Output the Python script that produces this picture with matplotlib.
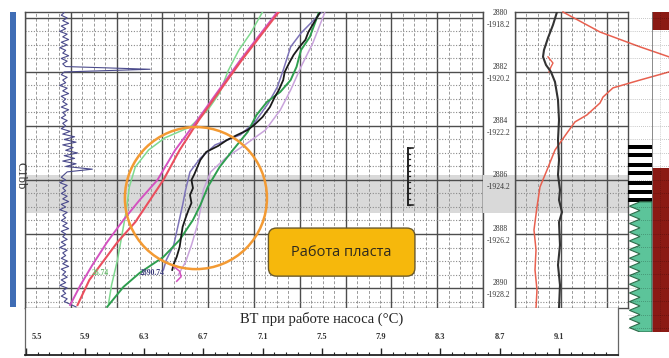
import matplotlib
matplotlib.use('Agg')
import matplotlib.pyplot as plt
from matplotlib.patches import Ellipse, FancyBboxPatch, Rectangle, Polygon
from matplotlib.ticker import FixedLocator
import numpy as np

W, H = 669, 358
SERIF = 'Liberation Serif'

# ── scales ─────────────────────────────────────────────────────────────────────
DEPTH_TOP, DEPTH_BOT, LITH_BOT = 2879.78, 2890.74, 2891.63
T_MIN, T_TRACK_MAX, T_AXIS_MAX = 5.495, 8.59, 9.5
R_MAX, LITH_MID, LITH_MAX = 24.57, 29.78, 33.48

DEPTH_MARKS = [2880, 2882, 2884, 2886, 2888, 2890]
ABS_MARKS = ['-1918.2', '-1920.2', '-1922.2', '-1924.2', '-1926.2', '-1928.2']
GRAY_BAND = (2885.81, 2887.22)

TICKS = [5.5, 5.9, 6.3, 6.7, 7.1, 7.5, 7.9, 8.3, 8.7, 9.1]
TICK_LABELS = ['5.5', '5.9', '6.3', '6.7', '7.1', '7.5', '7.9', '8.3', '8.7', '9.1']

# ── temperature curves (°C vs depth, m) ────────────────────────────────────────
MAG_D = [2879.78, 2881.56, 2883.78, 2884.89, 2886.00, 2886.74, 2887.48, 2888.30, 2889.15, 2889.89, 2890.63]
MAG_T = [7.20, 6.95, 6.66, 6.51, 6.39, 6.27, 6.16, 6.05, 5.95, 5.87, 5.80]

RED_D = [2879.78, 2881.56, 2883.78, 2884.89, 2886.00, 2886.74, 2887.56, 2888.30, 2889.04, 2889.70, 2890.63]
RED_T = [7.21, 6.96, 6.67, 6.54, 6.43, 6.34, 6.24, 6.12, 6.02, 5.93, 5.85]

LG_D = [2879.78, 2880.56, 2881.19, 2881.93, 2882.78, 2883.41, 2884.04, 2884.44, 2884.89,
        2885.52, 2886.26, 2887.11, 2888.04, 2888.96, 2889.89, 2890.56]
LG_T = [7.10, 7.02, 6.94, 6.87, 6.81, 6.73, 6.61, 6.44, 6.33, 6.24, 6.20, 6.18, 6.15, 6.12, 6.08, 6.06]

BLK_D = [2879.78, 2880.15, 2880.52, 2880.81, 2881.07, 2881.37, 2881.67, 2882.00, 2882.30, 2882.67,
         2882.96, 2883.30, 2883.67, 2883.93, 2884.15, 2884.33, 2884.52, 2884.74, 2884.96, 2885.26,
         2885.52, 2885.78, 2886.00, 2886.30, 2886.56, 2886.85, 2887.11, 2887.41, 2887.74, 2888.11,
         2888.48, 2888.85, 2889.11, 2889.33]
BLK_T = [7.49, 7.45, 7.41, 7.39, 7.35, 7.31, 7.28, 7.25, 7.24, 7.21,
         7.18, 7.15, 7.10, 7.05, 7.00, 6.93, 6.86, 6.80, 6.72, 6.68,
         6.66, 6.64, 6.62, 6.63, 6.61, 6.62, 6.60, 6.58, 6.56, 6.55,
         6.54, 6.52, 6.50, 6.49]

DG_D = [2879.81, 2880.70, 2881.19, 2881.81, 2882.30, 2882.74, 2883.11, 2883.59, 2884.22, 2884.89,
        2885.52, 2886.26, 2886.93, 2887.48, 2888.22, 2888.85, 2889.44, 2889.96, 2890.70]
DG_T = [7.48, 7.42, 7.36, 7.33, 7.29, 7.22, 7.13, 7.06, 7.00, 6.90,
        6.81, 6.73, 6.68, 6.63, 6.54, 6.43, 6.27, 6.16, 6.05]

PUR_D = [2879.78, 2880.56, 2881.07, 2881.93, 2882.56, 2883.15, 2883.85, 2884.33, 2884.70, 2885.19,
         2885.70, 2886.37, 2886.93, 2887.67, 2888.41, 2888.96, 2889.33]
PUR_T = [7.50, 7.36, 7.29, 7.24, 7.20, 7.14, 7.05, 6.95, 6.78, 6.68,
         6.61, 6.58, 6.56, 6.53, 6.50, 6.45, 6.43]

LIL_D = [2879.81, 2880.93, 2881.81, 2882.67, 2883.41, 2884.15, 2884.70, 2885.19, 2885.70, 2886.37,
         2887.11, 2887.67, 2888.41, 2889.04, 2889.52]
LIL_T = [7.52, 7.44, 7.36, 7.29, 7.22, 7.12, 6.98, 6.85, 6.75, 6.70,
         6.68, 6.66, 6.62, 6.58, 6.53]

CURL_D = [2889.20, 2889.38, 2889.58, 2889.75]
CURL_T = [6.50, 6.54, 6.55, 6.52]

# wiggly log on the left of the track, sampled every 0.1 m from the top
WIG_START, WIG_STEP = 2879.8, 0.1
WIG_T = [5.76, 5.74, 5.78, 5.75, 5.79, 5.74, 5.77, 5.73, 5.78, 5.75, 5.79, 5.74, 5.78, 5.73, 5.77,
         5.75, 5.79, 5.74, 5.78, 5.75, 5.77, 6.34,
         5.76, 5.74, 5.78, 5.75, 5.77, 5.73, 5.78, 5.75, 5.79, 5.74, 5.77, 5.75, 5.78, 5.74, 5.79,
         5.75, 5.77, 5.74, 5.78, 5.75, 5.77, 5.74,
         5.80, 5.75, 5.83, 5.76, 5.84, 5.75, 5.82, 5.77, 5.85, 5.76, 5.83, 5.75, 5.84, 5.77, 5.95,
         5.78, 5.76,
         5.74, 5.77, 5.73, 5.78, 5.75, 5.77, 5.74, 5.78, 5.75, 5.79, 5.74, 5.77, 5.73, 5.78, 5.75,
         5.77, 5.74, 5.78, 5.75, 5.79, 5.74, 5.77, 5.75, 5.78, 5.74, 5.77, 5.73, 5.78, 5.75, 5.77,
         5.74, 5.78, 5.75, 5.79, 5.74, 5.77, 5.75, 5.78, 5.74, 5.77, 5.73, 5.78, 5.75, 5.77, 5.74,
         5.78, 5.76, 5.80, 5.84]

# ── right track (relative units) ───────────────────────────────────────────────
RB_D = [2879.78, 2880.26, 2880.74, 2881.19, 2881.44, 2881.74, 2882.00, 2882.37, 2883.04, 2883.78,
        2884.52, 2885.26, 2885.81, 2886.37, 2886.74, 2887.19, 2887.56, 2888.41, 2889.15, 2889.89, 2890.74]
RB_U = [9.13, 8.26, 7.17, 6.30, 6.09, 6.74, 7.83, 8.70, 9.35, 9.57,
        9.35, 9.57, 9.35, 9.78, 9.57, 10.22, 9.57, 9.78, 9.35, 9.78, 9.57]

RR_D = [2879.78, 2880.52, 2881.07, 2881.44, 2881.72, 2882.00, 2882.30, 2882.59, 2882.93, 2883.15,
        2883.59, 2883.85, 2884.26, 2884.89, 2885.63, 2886.26, 2887.00, 2887.85, 2888.59, 2889.33,
        2890.07, 2890.74]
RR_U = [10.43, 18.48, 27.17, 33.48, 35.50, 33.48, 27.17, 21.30, 19.13, 18.48,
        15.65, 13.04, 11.30, 8.70, 6.96, 5.43, 4.78, 4.13, 4.57, 4.35,
        4.78, 4.57]

RS_D = [2881.44, 2881.67, 2881.81, 2882.00]
RS_U = [7.17, 8.26, 7.83, 7.39]

# ── lithology ──────────────────────────────────────────────────────────────────
STRIPE_DEPTHS = [2884.78, 2885.07, 2885.44, 2885.74, 2886.11, 2886.44, 2886.74]
TOP_BLOCK = (2879.78, 2880.44)
RED_TOP = 2885.56
GREEN_TOP = 2886.81

fig = plt.figure(figsize=(W / 100, H / 100), dpi=100)
fig.patch.set_facecolor('white')


def px_axes(x0, y0, x1, y1):
    return fig.add_axes([x0 / W, 1 - y1 / H, (x1 - x0) / W, (y1 - y0) / H])


MAJ = dict(color='#4d4d4d', lw=1.0, zorder=1)
MIN_V = dict(color='#9a9a9a', lw=0.7, ls=(0, (3, 2)), zorder=1)
MIN_H = dict(color='#8a8a8a', lw=0.8, ls=(0, (1, 1.5)), zorder=1)


def draw_grid(ax, xmajor, xminor):
    ax.axhspan(*GRAY_BAND, color='#d9d9d9', lw=0, zorder=0)
    for x in xminor:
        ax.axvline(x, **MIN_V)
    for x in xmajor:
        ax.axvline(x, **MAJ)
    for d in np.arange(2880, 2890.6, 0.5):
        if d in DEPTH_MARKS:
            ax.axhline(d, **MAJ)
        else:
            ax.axhline(d, **MIN_H)
    ax.set_xticks([])
    ax.set_yticks([])
    for s in ax.spines.values():
        s.set_color('#4d4d4d')
        s.set_linewidth(1.0)


# ── main temperature track ─────────────────────────────────────────────────────
track = px_axes(25, 12, 483, 308)
track.set_xlim(T_MIN, T_TRACK_MAX)
track.set_ylim(DEPTH_BOT, DEPTH_TOP)
draw_grid(track, np.linspace(T_MIN, T_TRACK_MAX, 11), np.linspace(T_MIN, T_TRACK_MAX, 41))

wig_d = WIG_START + WIG_STEP * np.arange(len(WIG_T))
track.plot(WIG_T, wig_d, color='#4b4b8c', lw=0.8, zorder=3)
track.plot(LG_T, LG_D, color='#7fd98f', lw=1.1, zorder=3)
track.plot(MAG_T, MAG_D, color='#d452c0', lw=1.4, zorder=3)
track.plot(RED_T, RED_D, color='#ea4f5e', lw=1.5, zorder=3)
track.plot(LIL_T, LIL_D, color='#c9a3dc', lw=1.1, zorder=3)
track.plot(PUR_T, PUR_D, color='#7d73b8', lw=1.1, zorder=3)
track.plot(DG_T, DG_D, color='#2e9e4f', lw=1.4, zorder=3)
track.plot(BLK_T, BLK_D, color='#1a1a1a', lw=1.3, zorder=3)
track.plot(CURL_T, CURL_D, color='#d452c0', lw=1.1, zorder=3)

track.text(6.00, 2889.45, '26.74', color='#6cc070', fontsize=5.5, fontweight='bold',
           family=SERIF, ha='center', va='center', zorder=4)
track.text(6.35, 2889.43, '2890.74', color='#3b3b7a', fontsize=5.5, fontweight='bold',
           family=SERIF, ha='center', va='center', zorder=4)

track.add_patch(Ellipse((6.65, 2886.67), width=0.96, height=5.26, fill=False,
                        edgecolor='#f39a33', lw=1.8, zorder=5))

box = FancyBboxPatch((7.14, 2887.78), 0.99, 1.78,
                     boxstyle='round,pad=0,rounding_size=0.055', mutation_aspect=148 / 27,
                     facecolor='#f6b80c', edgecolor='#6b5a2a', lw=1.0, zorder=6)
track.add_patch(box)
track.text(7.635, 2888.67, 'Работа пласта', fontsize=10.5, family='Open Sans',
           color='#2f2a1e', ha='center', va='center', zorder=7)

# small depth scale mark
track.plot([8.08, 8.08], [2884.81, 2886.93], color='#222222', lw=1.4, zorder=4)
for d in np.arange(2884.81, 2886.95, 0.21):
    track.plot([8.08, 8.10], [d, d], color='#222222', lw=0.9, zorder=4)
for d in (2884.81, 2886.93):
    track.plot([8.08, 8.12], [d, d], color='#222222', lw=1.2, zorder=4)

# ── depth column ───────────────────────────────────────────────────────────────
dcol = px_axes(483, 12, 515, 308)
dcol.set_xlim(0, 1)
dcol.set_ylim(DEPTH_BOT, DEPTH_TOP)
dcol.axhspan(*GRAY_BAND, color='#d9d9d9', lw=0)
dcol.axis('off')
for d, a in zip(DEPTH_MARKS, ABS_MARKS):
    dcol.text(0.55, d - 0.17, str(d), fontsize=5.5, family=SERIF, color='#333333',
              ha='center', va='center')
    dcol.text(0.5, d + 0.27, a, fontsize=5.5, family=SERIF, color='#333333',
              ha='center', va='center')

# ── right track ────────────────────────────────────────────────────────────────
rtrack = px_axes(515, 12, 628, 308)
rtrack.set_xlim(0, R_MAX)
rtrack.set_ylim(DEPTH_BOT, DEPTH_TOP)
draw_grid(rtrack, [0, 10, 20], np.arange(0, R_MAX, 2.5))
rtrack.plot(RR_U, RR_D, color='#e8604f', lw=1.1, zorder=3, clip_on=False)
rtrack.plot(RS_U, RS_D, color='#e8604f', lw=1.0, zorder=3)
rtrack.plot(RB_U, RB_D, color='#333333', lw=1.5, zorder=4)

# ── lithology column ───────────────────────────────────────────────────────────
lith = px_axes(628, 12, 669, 332)
lith.set_xlim(R_MAX, LITH_MAX)
lith.set_ylim(LITH_BOT, DEPTH_TOP)
lith.patch.set_alpha(0)
lith.axis('off')
lith.add_patch(Rectangle((LITH_MID, TOP_BLOCK[0]), LITH_MAX - LITH_MID, TOP_BLOCK[1] - TOP_BLOCK[0],
                         color='#8b1a14', lw=0))
lith.add_patch(Rectangle((LITH_MID, RED_TOP), LITH_MAX - LITH_MID, LITH_BOT - RED_TOP,
                         color='#8b1a14', lw=0))
for d in STRIPE_DEPTHS:
    lith.add_patch(Rectangle((R_MAX, d - 0.07), LITH_MID - R_MAX, 0.14, color='black', lw=0))
zz_d = np.linspace(GREEN_TOP, LITH_BOT, 31)
zz_u = [R_MAX + 0.3 if i % 2 else R_MAX + 2.6 for i in range(len(zz_d))]
green = Polygon([(LITH_MID, GREEN_TOP)] + list(zip(zz_u, zz_d)) + [(LITH_MID, LITH_BOT)],
                closed=True, facecolor='#5cc49a', edgecolor='#2f6b4a', lw=0.8)
lith.add_patch(green)
for d in np.arange(2880, 2891.6, 0.5):
    lith.axhline(d, color='black', alpha=0.3, lw=0.6, ls=(0, (1, 1.5)))
lith.axvline(LITH_MID, color='#777777', lw=0.6)
lith.axvline(31.6, color='black', alpha=0.25, lw=0.6, ls=(0, (1, 1.5)))

# ── bottom temperature scale ───────────────────────────────────────────────────
bax = px_axes(25, 308, 618, 355)
bax.set_xlim(T_MIN, T_AXIS_MAX)
bax.set_ylim(0, 1)
bax.set_yticks([])
bax.set_xticks(TICKS)
bax.set_xticklabels([])
bax.xaxis.set_minor_locator(FixedLocator(np.arange(5.5, 9.5, 0.08)))
bax.tick_params(axis='x', which='major', direction='in', length=5, width=1, color='#222222')
bax.tick_params(axis='x', which='minor', direction='in', length=2.5, width=0.8, color='#222222')
bax.spines['top'].set_visible(False)
bax.spines['bottom'].set_linewidth(1.3)
bax.spines['bottom'].set_color('#222222')
for s in ('left', 'right'):
    bax.spines[s].set_color('#666666')
    bax.spines[s].set_linewidth(0.9)
for t, lab in zip(TICKS, TICK_LABELS):
    first = t == TICKS[0]
    bax.text(t + (0.04 if first else 0), 0.38, lab, ha='left' if first else 'center', va='center',
             fontsize=6, family=SERIF, fontweight='bold', color='#333333')
bax.text(7.50, 0.77, 'ВТ при работе насоса (°C)', ha='center', va='center',
         fontsize=10.5, family=SERIF, color='#222222')

# ── left formation bar ─────────────────────────────────────────────────────────
fig.add_artist(Rectangle((10 / W, 1 - 307 / H), 6 / W, 295 / H, transform=fig.transFigure,
                         color='#3f6db5', lw=0))
fig.text(20.5 / W, 1 - 176 / H, 'C1bb', rotation=-90, ha='center', va='center',
         fontsize=9, family=SERIF, color='#333333')

fig.savefig('out.png', dpi=100, facecolor='white')
